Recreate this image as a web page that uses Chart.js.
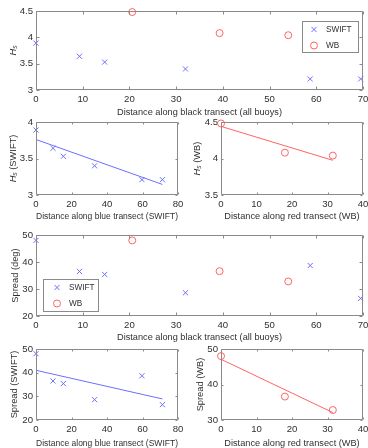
<!DOCTYPE html>
<html><head><meta charset="utf-8">
<script src="https://cdn.jsdelivr.net/npm/chart.js@4.4.1/dist/chart.umd.min.js"></script>
<style>
html,body{margin:0;padding:0;background:#fff;width:368px;height:448px;overflow:hidden;position:relative;}
canvas{position:absolute;}
</style></head><body>
<canvas id="c1"></canvas><canvas id="c2"></canvas><canvas id="c3"></canvas>
<canvas id="c4"></canvas><canvas id="c5"></canvas><canvas id="c6"></canvas>
<script>
// ---------- data ----------
const seriesNames = ['SWIFT', 'WB'];
const distBlackSWIFT = [0, 9.3, 14.7, 32.0, 58.7, 69.5];
const distBlackWB = [20.6, 39.3, 54.0];
const distBlueSWIFT = [0, 9.6, 15.4, 33.0, 59.7, 71.2];
const distRedWB = [0, 18.0, 31.5];
const hsSWIFT = [3.89, 3.64, 3.53, 3.40, 3.21, 3.21];
const hsWB = [4.48, 4.08, 4.04];
const spreadSWIFT = [48.0, 36.5, 35.4, 28.6, 38.7, 26.5];
const spreadWB = [48.0, 36.6, 32.8];
const fitBlueX = [0, 71.2];
const fitHsSWIFT = [3.76, 3.145];
const fitSpreadSWIFT = [41.0, 28.9];
const fitRedX = [0, 31.5];
const fitHsWB = [4.44, 3.975];
const fitSpreadWB = [47.1, 32.1];
const xTicksBlack = [0, 10, 20, 30, 40, 50, 60, 70];
const xTicksBlue = [0, 20, 40, 60, 80];
const xTicksRed = [0, 10, 20, 30, 40];
const yTicksHs = [3, 3.5, 4, 4.5];
const yTicksHsSWIFT = [3, 3.5, 4];
const yTicksHsWB = [3.5, 4, 4.5];
const yTicksSpread = [20, 30, 40, 50];
const yTicksSpreadWB = [30, 40, 50];
const xTitleBlack = 'Distance along black transect (all buoys)';
const xTitleBlue = 'Distance along blue transect (SWIFT)';
const xTitleRed = 'Distance along red transect (WB)';

// ---------- style ----------
const BLUE = 'rgb(110,110,255)';
const RED = 'rgb(255,100,100)';
const TXT = '#303030';
const AX = '#8a8a8a';
const FONT = '"Liberation Sans", Arial, Helvetica, sans-serif';

const zip = (xs, ys) => xs.map((v, i) => ({x: v, y: ys[i]}));

function swiftSet(xs, ys) {
  return {label: seriesNames[0], data: zip(xs, ys), pointStyle: 'crossRot', pointRadius: 3.6,
    borderColor: BLUE, backgroundColor: 'rgba(0,0,0,0)', borderWidth: 1, pointBorderWidth: 1,
    showLine: false, clip: false, legend: true};
}
function wbSet(xs, ys) {
  return {label: seriesNames[1], data: zip(xs, ys), pointStyle: 'circle', pointRadius: 3.5,
    borderColor: RED, backgroundColor: 'rgba(0,0,0,0)', borderWidth: 1, pointBorderWidth: 1,
    showLine: false, clip: false, legend: true};
}
function fitSet(xs, ys, col) {
  return {label: 'fit', data: zip(xs, ys), showLine: true, pointRadius: 0, borderColor: col,
    borderWidth: 1, fill: false, clip: false};
}

const matlabPlugin = {
  id: 'matlabAxes',
  afterDatasetsDraw(chart, args, o) {
    const {ctx, chartArea: a, scales: {x, y}} = chart;
    ctx.save();
    ctx.strokeStyle = AX; ctx.lineWidth = 1;
    const L = Math.round(a.left) + 0.5, R = Math.round(a.right) - 0.5;
    const T = Math.round(a.top) + 0.5, B = Math.round(a.bottom) - 0.5;
    ctx.beginPath();
    ctx.rect(L, T, R - L, B - T);
    const tl = o.tickLen;
    x.ticks.forEach(t => {
      const px = Math.round(x.getPixelForValue(t.value)) + 0.5;
      ctx.moveTo(px, B); ctx.lineTo(px, B - tl);
      ctx.moveTo(px, T); ctx.lineTo(px, T + tl);
    });
    y.ticks.forEach(t => {
      const py = Math.round(y.getPixelForValue(t.value)) + 0.5;
      ctx.moveTo(L, py); ctx.lineTo(L + tl, py);
      ctx.moveTo(R, py); ctx.lineTo(R - tl, py);
    });
    ctx.stroke();
    ctx.restore();
  },
  afterDraw(chart, args, o) {
    const {ctx, chartArea: a} = chart;
    if (o.yLabel) {
      ctx.save();
      const cy = (a.top + a.bottom) / 2;
      ctx.translate(o.yLabelX, cy);
      ctx.rotate(-Math.PI / 2);
      ctx.fillStyle = TXT;
      ctx.textBaseline = 'middle';
      ctx.textAlign = 'left';
      const size = 9.3;
      const segs = o.yLabel.map(s => {
        const f = (s.i ? 'italic ' : '') + (s.sub ? size * 0.72 : size) + 'px ' + FONT;
        ctx.font = f;
        return {t: s.t, f, w: ctx.measureText(s.t).width, dy: s.sub ? 2 : 0};
      });
      const total = segs.reduce((m, s) => m + s.w, 0);
      let px = -total / 2;
      segs.forEach(s => { ctx.font = s.f; ctx.fillText(s.t, px, s.dy); px += s.w; });
      ctx.restore();
    }
    if (o.legendBox) {
      const lb = o.legendBox;
      ctx.save();
      ctx.fillStyle = '#fff';
      ctx.fillRect(lb.x, lb.y, lb.w, lb.h);
      ctx.strokeStyle = AX; ctx.lineWidth = 1;
      ctx.strokeRect(lb.x + 0.5, lb.y + 0.5, lb.w - 1, lb.h - 1);
      ctx.font = '8.2px ' + FONT;
      ctx.textBaseline = 'middle'; ctx.textAlign = 'left';
      const items = chart.data.datasets.filter(d => d.legend);
      items.forEach((d, i) => {
        const my = lb.y + lb.row0 + i * lb.dy;
        const mx = lb.x + lb.mx;
        ctx.strokeStyle = d.borderColor; ctx.lineWidth = 1;
        ctx.beginPath();
        if (d.pointStyle === 'crossRot') {
          const r = d.pointRadius * Math.SQRT1_2;
          ctx.moveTo(mx - r, my - r); ctx.lineTo(mx + r, my + r);
          ctx.moveTo(mx + r, my - r); ctx.lineTo(mx - r, my + r);
        } else {
          ctx.arc(mx, my, d.pointRadius, 0, Math.PI * 2);
        }
        ctx.stroke();
        ctx.fillStyle = TXT;
        ctx.fillText(d.label, lb.x + lb.tx, my);
      });
      ctx.restore();
    }
  }
};

function makeChart(c) {
  const el = document.getElementById(c.id);
  el.width = c.w; el.height = c.h;
  el.style.left = c.left + 'px'; el.style.top = c.top + 'px';
  el.style.width = c.w + 'px'; el.style.height = c.h + 'px';
  const yW = c.box.l - c.left, padTop = c.box.t - c.top, padRight = c.left + c.w - c.box.r;
  const xH = c.top + c.h - c.box.b;
  const tFont = 9.2;
  const titlePb = (c.top + c.h - c.xTitleY) - tFont / 2;
  const lb = c.legend ? Object.assign({}, c.legend, {x: c.legend.x - c.left, y: c.legend.y - c.top}) : null;
  new Chart(el, {
    type: 'scatter',
    data: {datasets: c.datasets},
    options: {
      responsive: false, animation: false, devicePixelRatio: 1,
      events: [],
      layout: {padding: {top: padTop, right: padRight, left: 0, bottom: 0}},
      plugins: {legend: {display: false}, tooltip: {enabled: false},
        matlabAxes: {tickLen: c.tickLen, yLabel: c.yLabel, yLabelX: c.yLabelX - c.left, legendBox: lb}},
      scales: {
        x: {type: 'linear', min: c.xTicks[0], max: c.xTicks[c.xTicks.length - 1],
          afterBuildTicks: s => { s.ticks = c.xTicks.map(v => ({value: v})); },
          afterFit: s => { s.height = xH; s.paddingLeft = 0; s.paddingRight = 0; },
          grid: {display: false, drawTicks: false}, border: {display: false},
          ticks: {padding: c.xTickPad, color: TXT, font: {family: FONT, size: 9.6, lineHeight: 1},
            maxRotation: 0, autoSkip: false, callback: v => String(v)},
          title: {display: true, text: c.xTitle, color: TXT,
            font: {family: FONT, size: tFont, lineHeight: 1}, padding: {top: 0, bottom: titlePb}}
        },
        y: {type: 'linear', min: c.yTicks[0], max: c.yTicks[c.yTicks.length - 1],
          afterBuildTicks: s => { s.ticks = c.yTicks.map(v => ({value: v})); },
          afterFit: s => { s.width = yW; s.paddingTop = 0; s.paddingBottom = 0; },
          grid: {display: false, drawTicks: false}, border: {display: false},
          ticks: {padding: 3, color: TXT, font: {family: FONT, size: 9.6, lineHeight: 1},
            autoSkip: false, callback: v => String(v)},
          title: {display: false}
        }
      }
    },
    plugins: [matlabPlugin]
  });
}

const HsLab = (rest) => [{t: 'H', i: true}, {t: 's', i: true, sub: true}].concat(rest ? [{t: rest}] : []);

makeChart({id: 'c1', left: 0, top: 0, w: 368, h: 122, box: {l: 36, t: 11, r: 363, b: 90},
  xTicks: xTicksBlack, yTicks: yTicksHs, xTitle: xTitleBlack, xTitleY: 112.5, xTickPad: 4.6,
  yLabel: HsLab(''), yLabelX: 13.5, tickLen: 3,
  legend: {x: 302, y: 21, w: 57, h: 32, mx: 12, tx: 24, row0: 8.5, dy: 16},
  datasets: [swiftSet(distBlackSWIFT, hsSWIFT), wbSet(distBlackWB, hsWB)]});

makeChart({id: 'c2', left: 0, top: 112, w: 184, h: 116, box: {l: 36, t: 122, r: 178, b: 195},
  xTicks: xTicksBlue, yTicks: yTicksHsSWIFT, xTitle: xTitleBlue, xTitleY: 216.5, xTickPad: 4.2,
  yLabel: HsLab(' (SWIFT)'), yLabelX: 13, tickLen: 2,
  datasets: [swiftSet(distBlueSWIFT, hsSWIFT), fitSet(fitBlueX, fitHsSWIFT, BLUE)]});

makeChart({id: 'c3', left: 184, top: 112, w: 184, h: 116, box: {l: 221, t: 122, r: 363, b: 195},
  xTicks: xTicksRed, yTicks: yTicksHsWB, xTitle: xTitleRed, xTitleY: 216, xTickPad: 4.2,
  yLabel: HsLab(' (WB)'), yLabelX: 197, tickLen: 2,
  datasets: [wbSet(distRedWB, hsWB), fitSet(fitRedX, fitHsWB, RED)]});

makeChart({id: 'c4', left: 0, top: 226, w: 368, h: 119, box: {l: 36, t: 235, r: 363, b: 316},
  xTicks: xTicksBlack, yTicks: yTicksSpread, xTitle: xTitleBlack, xTitleY: 337.5, xTickPad: 4.6,
  yLabel: [{t: 'Spread (deg)'}], yLabelX: 15, tickLen: 3,
  legend: {x: 43, y: 279, w: 56, h: 33, mx: 14, tx: 26, row0: 8.5, dy: 16},
  datasets: [swiftSet(distBlackSWIFT, spreadSWIFT), wbSet(distBlackWB, spreadWB)]});

makeChart({id: 'c5', left: 0, top: 340, w: 184, h: 108, box: {l: 36, t: 349, r: 178, b: 420},
  xTicks: xTicksBlue, yTicks: yTicksSpread, xTitle: xTitleBlue, xTitleY: 443, xTickPad: 4.6,
  yLabel: [{t: 'Spread (SWIFT)'}], yLabelX: 14, tickLen: 2,
  datasets: [swiftSet(distBlueSWIFT, spreadSWIFT), fitSet(fitBlueX, fitSpreadSWIFT, BLUE)]});

makeChart({id: 'c6', left: 184, top: 340, w: 184, h: 108, box: {l: 221, t: 349, r: 363, b: 420},
  xTicks: xTicksRed, yTicks: yTicksSpreadWB, xTitle: xTitleRed, xTitleY: 443, xTickPad: 4.6,
  yLabel: [{t: 'Spread (WB)'}], yLabelX: 200, tickLen: 2,
  datasets: [wbSet(distRedWB, spreadWB), fitSet(fitRedX, fitSpreadWB, RED)]});
</script>
</body></html>
